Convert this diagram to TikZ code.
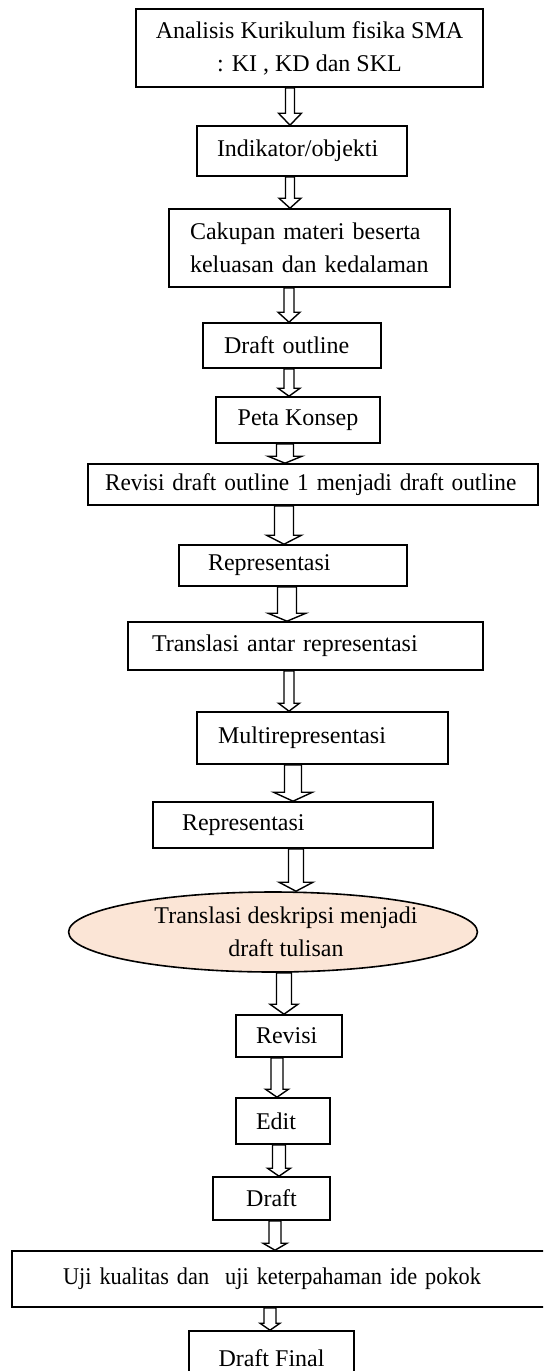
\documentclass[tikz,border=0pt]{standalone}
\usepackage{fontspec}
\setmainfont{Liberation Serif}
\usetikzlibrary{shapes.geometric,calc}

\definecolor{peach}{HTML}{FBE5D6}

\tikzset{
  every node/.style={font=\fontsize{12}{16.5}\selectfont},
  box/.style 2 args={draw, line width=.8pt, minimum width=#1, minimum height=#2, inner sep=0pt, align=center},
  lbox/.style n args={3}{draw, line width=.8pt, text width=#1, minimum height=#2, inner xsep=#3, inner ysep=0pt, align=left},
  oval/.style={draw, ellipse, line width=.8pt, fill=peach, minimum width=160pt, minimum height=40pt, inner sep=0pt, align=center},
  hollow/.style={draw, line width=.7pt, fill=white, line join=miter},
  narrow/.style={font=\fontsize{12}{16.5}\selectfont\addfontfeatures{FakeStretch=#1}}
}

\begin{document}
\begin{tikzpicture}[x=0.5pt,y=-0.5pt]
  \clip (0,0) rectangle (543,1371);
  \fill[white] (0,0) rectangle (543,1371);

  \node[box={173.5pt}{39pt}] (kur) at (309.5,48) {Analisis Kurikulum fisika SMA\\: KI , KD dan SKL};
  \node[lbox={85pt}{25pt}{10pt}] (ind) at (302,151) {Indikator/objekti};
  \node[lbox={119.5pt}{39pt}{10.5pt}] (cak) at (309.5,248) {Cakupan materi beserta\\keluasan dan kedalaman};
  \node[lbox={68pt}{22.5pt}{10.5pt}] (outl) at (292,345.5) {Draft outline};
  \node[box={82pt}{23pt}] (peta) at (298,420) {Peta Konsep};
  \node[lbox={208pt}{20.5pt}{8.5pt}, narrow=0.97] (revo) at (313,484.5) {\mbox{Revisi draft outline 1 menjadi draft outline}};
  \node[lbox={85pt}{20.5pt}{14.5pt}] (repa) at (293,565.5) {Representasi};
  \node[lbox={153.5pt}{24pt}{12pt}] (trans) at (305.5,646) {Translasi antar representasi};
  \node[lbox={104.5pt}{26pt}{10.5pt}] (multi) at (322.5,738) {Multirepresentasi};
  \node[lbox={111pt}{23pt}{14.5pt}] (repb) at (293,825) {Representasi};
  \node[oval] (desk) at (273,932) {\hspace*{13pt}Translasi deskripsi menjadi\\\hspace*{13pt}draft tulisan};
  \node[lbox={33pt}{21pt}{10pt}] (rev) at (289,1036) {Revisi};
  \node[lbox={27pt}{23pt}{10pt}] (edit) at (283,1121) {Edit};
  \node[box={58.5pt}{21.5pt}] (drft) at (271.5,1198.5) {Draft};
  \node[lbox={218pt}{28pt}{25.5pt}, narrow=0.93] (uji) at (281,1279) {\mbox{Uji kualitas dan~ uji keterpahaman ide pokok}};
  \node[box={82.5pt}{27pt}] (final) at (271.5,1358) {Draft Final};

  % hollow block arrows: source/target/x/shaft/head/head length
  \foreach \src/\tgt/\ax/\sw/\hw/\hl in {
      kur/ind/290/4.5/11.5/12, ind/cak/290/4.5/11/10, cak/outl/289/5/11/10,
      outl/peta/289/5/11/8, peta/revo/285/8.5/17/7, revo/repa/284/9.5/17.5/9,
      repa/trans/287/9.5/19/8, trans/multi/289/5/10.5/8, multi/repb/293/8.5/19.5/9,
      repb/desk/296/7.5/17/9, desk/rev/284/7.5/14/10, rev/edit/277/6/11.5/8,
      edit/drft/279/6.5/11.5/8, drft/uji/275/6/12/7, uji/final/270/6/10/7}
    \draw[hollow] let \p1=(\src.south), \p2=(\tgt.north), \p3=(\ax,0) in
      ({\x3-\sw*0.5pt},\y1) -- ({\x3-\sw*0.5pt},{\y2+\hl*0.5pt})
      -- ({\x3-\hw*0.5pt},{\y2+\hl*0.5pt}) -- (\x3,\y2)
      -- ({\x3+\hw*0.5pt},{\y2+\hl*0.5pt}) -- ({\x3+\sw*0.5pt},{\y2+\hl*0.5pt})
      -- ({\x3+\sw*0.5pt},\y1) -- cycle;
\end{tikzpicture}
\end{document}
